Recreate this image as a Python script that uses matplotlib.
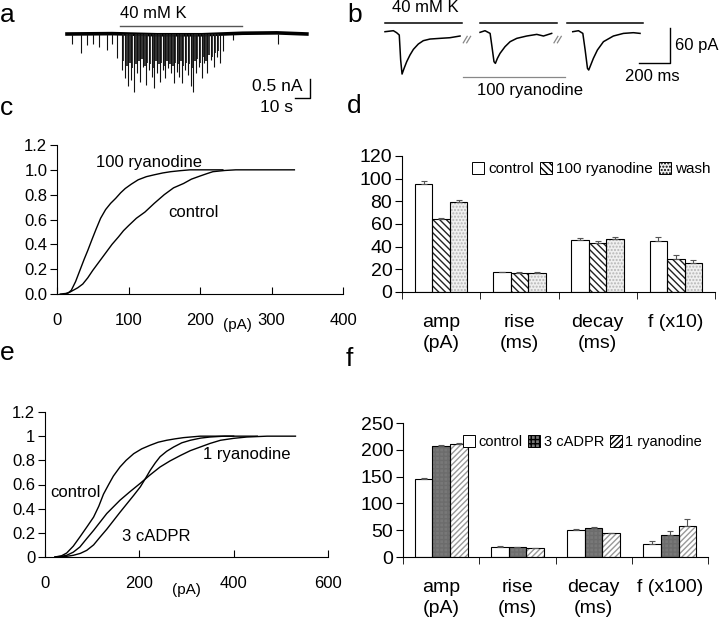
import numpy as np
import matplotlib
matplotlib.use('Agg')
import matplotlib.pyplot as plt

plt.rcParams['font.family'] = ['Liberation Sans', 'DejaVu Sans']
plt.rcParams['hatch.linewidth'] = 1.0

# ---- panel a: spikes (time s, amplitude nA) ----
base_t = [0, 30, 60, 90, 117, 140, 160]
base_i = [0.0, 0.01, -0.02, -0.02, 0.02, 0.03, 0.0]
spike_t = [3.1, 9.1, 13.6, 17.6, 21.6, 26.4, 29.8, 33.6,
           36.5, 38.7, 40.9, 42.5, 44.7, 46.9, 48.7, 50.9, 52.7, 54.5,
           56.5, 58.2, 60.2, 62.0, 63.8, 65.6, 67.6, 69.4, 71.4, 73.2,
           74.9, 76.7, 78.7, 80.5, 82.5, 84.3, 86.0, 87.8, 89.8, 91.6,
           93.6, 95.8, 98.0, 99.8, 102.1, 104.3, 110.9, 141.0]
spike_i = [-0.25, -0.51, -0.29, -0.25, -0.33, -0.42, -0.25, -0.64,
           -0.95, -1.17, -1.38, -1.21, -1.52, -1.03, -1.25, -0.86, -1.34, -0.95,
           -1.12, -1.43, -1.03, -1.25, -0.95, -1.17, -0.90, -1.03, -1.30, -0.99,
           -1.12, -1.30, -0.95, -1.08, -1.38, -1.52, -1.03, -0.86, -1.17, -0.77,
           -1.03, -0.68, -0.86, -0.60, -0.77, -0.46, -0.16, -0.25]
minor_t = [37.6, 39.8, 41.7, 43.6, 45.8, 47.8, 49.8, 51.8, 53.6, 55.5, 57.3,
           59.2, 61.1, 62.9, 64.7, 66.6, 68.5, 70.4, 72.3, 74.0, 75.8, 77.7,
           79.6, 81.5, 83.4, 85.1, 86.9, 88.8, 90.7, 92.6, 94.7, 96.9, 98.9, 101.0]
minor_i = [-0.70, -0.85, -0.75, -0.90, -0.80, -0.70, -0.65, -0.85, -0.75, -0.80, -0.90,
           -0.70, -0.80, -0.75, -0.85, -0.70, -0.80, -0.85, -0.75, -0.80, -0.70, -0.85,
           -0.75, -0.80, -0.90, -0.70, -0.65, -0.75, -0.60, -0.70, -0.55, -0.60, -0.50, -0.45]
k_on, k_off = 35.3, 116.7

# ---- panel b: averaged events (ms, pA) ----
tr1_t = [0, 54, 75, 92, 101, 110, 123, 140, 161, 183, 215, 247, 290, 355, 419, 484]
tr1_i = [0, 1.7, -1.7, -5.7, -48.6, -72.6, -62.9, -51.4, -40, -30.3, -21.1, -15.4, -12.6, -11.4, -10.3, -7.4]
tr2_t = [0, 32, 65, 77, 90, 99, 112, 129, 161, 194, 237, 301, 366, 409, 462]
tr2_i = [-1.1, 1.7, -2.9, -25.7, -51.4, -54.3, -45.7, -37.1, -25.7, -17.1, -11.4, -7.4, -4.6, -7.4, -2.9]
tr3_t = [0, 37, 65, 80, 95, 103, 116, 133, 159, 198, 262, 327, 391, 434]
tr3_i = [0, 1.7, -2.9, -31.4, -62.9, -65.7, -57.1, -45.7, -31.4, -17.1, -7.4, -2.9, -1.7, -2.9]
tr_offsets = [0, 613, 1211]

# ---- panel c: cumulative amplitude ----
c_ctl_x = [4.5, 13.6, 18, 22.7, 29, 36, 43, 50, 59, 68, 77, 86, 93, 100, 111, 123,
           136, 150, 163, 177, 188, 200, 210, 218, 235, 250, 332]
c_ctl_y = [0, 0.005, 0.015, 0.03, 0.05, 0.08, 0.13, 0.19, 0.26, 0.33, 0.40, 0.46, 0.51, 0.55,
           0.61, 0.66, 0.73, 0.80, 0.855, 0.89, 0.925, 0.95, 0.97, 0.985, 0.995, 1.0, 1.0]
c_rya_x = [11, 16, 20, 26, 32, 38, 43, 49, 54.5, 61, 68, 75, 82, 89, 95.5, 104, 113.6,
           125, 136, 148, 159, 172, 186, 232]
c_rya_y = [0, 0.01, 0.03, 0.10, 0.19, 0.28, 0.35, 0.44, 0.52, 0.61, 0.68, 0.73, 0.77, 0.815,
           0.85, 0.885, 0.92, 0.945, 0.96, 0.975, 0.985, 0.993, 1.0, 1.0]

# ---- panel e: cumulative amplitude ----
e_ctl_x = [21, 35, 46, 60, 74, 89, 103, 114, 124, 135, 145, 159, 172, 188, 205, 223,
           240, 258, 276, 294, 329, 400]
e_ctl_y = [0, 0.01, 0.033, 0.09, 0.166, 0.25, 0.33, 0.42, 0.52, 0.60, 0.67, 0.745, 0.80,
           0.855, 0.895, 0.925, 0.95, 0.966, 0.978, 0.988, 1.0, 1.0]
e_cad_x = [28, 45, 60, 75, 88.5, 103, 117, 131, 145, 159, 173.5, 188, 202, 213, 223, 234,
           244, 258, 272.6, 290, 308, 330, 350, 380, 450]
e_cad_y = [0, 0.005, 0.014, 0.03, 0.055, 0.10, 0.166, 0.23, 0.30, 0.37, 0.44, 0.51, 0.58,
           0.65, 0.717, 0.78, 0.83, 0.875, 0.91, 0.945, 0.966, 0.984, 0.993, 1.0, 1.0]
e_rya_x = [21, 34, 46, 60, 74, 88, 103, 117, 131, 145, 159, 180, 202, 223, 244, 265, 287,
           308, 329, 350, 372, 400, 428, 471, 531]
e_rya_y = [0, 0.005, 0.014, 0.04, 0.083, 0.15, 0.22, 0.29, 0.36, 0.415, 0.47, 0.54, 0.61,
           0.68, 0.745, 0.795, 0.84, 0.88, 0.91, 0.94, 0.966, 0.982, 0.993, 1.0, 1.0]

# ---- panel d / f: bar summaries ----
cats = ['amp\n(pA)', 'rise\n(ms)', 'decay\n(ms)', 'f (x10)']
d_ctl = [95.6, 17.6, 45.6, 45.3]
d_rya = [64.1, 17.1, 43.5, 29.1]
d_wash = [79.7, 17.1, 47.1, 25.9]
d_ctl_err = [2.0, 0.3, 2.0, 2.9]
d_rya_err = [1.2, 0.3, 1.2, 3.5]
d_wash_err = [1.5, 0.3, 1.7, 2.0]

cats_f = ['amp\n(pA)', 'rise\n(ms)', 'decay\n(ms)', 'f (x100)']
f_ctl = [145.6, 19.4, 51.3, 25.0]
f_cad = [207.5, 18.8, 55.0, 41.9]
f_rya = [210.0, 16.9, 44.4, 57.5]
f_ctl_err = [1.3, 0.3, 0.3, 5.0]
f_cad_err = [1.2, 0.3, 0.3, 6.9]
f_rya_err = [1.9, 0.3, 0.3, 13.1]

W, H = 720, 632
fig = plt.figure(figsize=(7.2, 6.32), dpi=100)


def box(l, t, r, b):
    return [l / W, 1 - b / H, (r - l) / W, (b - t) / H]


# panel letters
for lab, x, y in [('a', 0, 22), ('b', 347, 22), ('c', 0, 115), ('d', 347, 113),
                  ('e', 0, 360), ('f', 346, 366)]:
    fig.text(x / W, 1 - y / H, lab, fontsize=19, va='baseline', ha='left')

# ---------- a ----------
ax = fig.add_axes(box(60, 5, 320, 110))
ax.set_xlim(-7 * 0.667, 253 * 0.667)
ax.set_ylim(-76 * 0.0263, 29 * 0.0263)
ax.axis('off')
ax.plot(base_t, base_i, color='black', lw=2.6)
ax.vlines(minor_t, 0, minor_i, color='#222222', lw=1.3)
ax.vlines(spike_t, 0, spike_i, color='#111111', lw=0.8)
ax.plot([k_on, k_off], [0.21, 0.21], color='#555555', lw=1)
ax.text(k_on, 0.53, '40 mM K', fontsize=12, va='center', ha='left')
ax.plot([152, 162, 162], [-1.68, -1.68, -1.18], color='black', lw=1)
ax.text(157, -1.39, '0.5 nA', fontsize=12.5, va='center', ha='right')
ax.text(151, -1.92, '10 s', fontsize=12.5, va='center', ha='right')

# ---------- b ----------
ax = fig.add_axes(box(370, 0, 720, 110))
ax.set_xlim(-15 * 6.45, 335 * 6.45)
ax.set_ylim(-78.3 * 1.714, 31.7 * 1.714)
ax.axis('off')
for off, tt, ii in zip(tr_offsets, [tr1_t, tr2_t, tr3_t], [tr1_i, tr2_i, tr3_i]):
    ax.plot(np.array(tt) + off, ii, color='black', lw=1.1)
for k0, k1 in [(0, 494), (613, 1109), (1174, 1665)]:
    ax.plot([k0, k1], [14.3, 14.3], color='black', lw=1.1)
for bx in [505, 1090]:
    for dx in [0, 22]:
        ax.plot([bx + dx, bx + dx + 25], [-19, -8], color='#888888', lw=0.9)
ax.text(45, 42, '40 mM K', fontsize=12, va='center', ha='left')
ax.plot([503, 1161], [-77, -77], color='#888888', lw=0.9)
ax.text(935, -101, '100 ryanodine', fontsize=12, va='center', ha='center')
ax.plot([1638, 1838, 1838], [-53.7, -53.7, 6.3], color='black', lw=1)
ax.text(1871, -23, '60 pA', fontsize=12, va='center', ha='left')
ax.text(1722, -77, '200 ms', fontsize=12, va='center', ha='center')


def cum_axes(rect, xmax, xstep, yfmt, pad):
    a = fig.add_axes(rect)
    a.set_xlim(0, xmax)
    a.set_ylim(0, 1.2)
    a.set_xticks(np.arange(0, xmax + 1, xstep))
    a.set_yticks(np.arange(0, 1.21, 0.2))
    a.set_yticklabels([yfmt(v) for v in np.arange(0, 1.21, 0.2)])
    for s in ['top', 'right']:
        a.spines[s].set_visible(False)
    a.tick_params(axis='x', direction='in', length=5, pad=pad, labelsize=12)
    a.tick_params(axis='y', direction='out', length=5, pad=2, labelsize=12)
    return a


# ---------- c ----------
ax = cum_axes(box(57, 145, 343, 294), 400, 100, lambda v: f'{v:.1f}', 14)
ax.plot(c_ctl_x, c_ctl_y, color='black', lw=1)
ax.plot(c_rya_x, c_rya_y, color='black', lw=1)
ax.text(55, 1.063, '100 ryanodine', fontsize=12, va='center')
ax.text(155, 0.66, 'control', fontsize=12, va='center')
ax.text(253, -0.208, '(pA)', fontsize=11, va='center', ha='center',
        transform=ax.get_xaxis_transform())

# ---------- e ----------
ax = cum_axes(box(45, 412, 328, 557), 600, 200, lambda v: f'{v:g}', 14)
ax.plot(e_ctl_x, e_ctl_y, color='black', lw=1)
ax.plot(e_cad_x, e_cad_y, color='black', lw=1)
ax.plot(e_rya_x, e_rya_y, color='black', lw=1)
ax.text(10.6, 0.53, 'control', fontsize=12, va='center')
ax.text(336, 0.845, '1 ryanodine', fontsize=12, va='center')
ax.text(164, 0.166, '3 cADPR', fontsize=12, va='center')
ax.text(299, -0.228, '(pA)', fontsize=11, va='center', ha='center',
        transform=ax.get_xaxis_transform())


def bar_axes(rect, labels, series, errs, styles, names, ymax, ystep, bw, leg_anchor, leg_fs):
    a = fig.add_axes(rect)
    x = np.arange(len(labels))
    handles = []
    for k, (vals, err, st) in enumerate(zip(series, errs, styles)):
        pos = x + (k - 1) * bw
        face, hatch, hcol = st
        a.bar(pos, vals, bw, color=face, hatch=hatch, edgecolor=hcol, lw=0, zorder=2)
        a.bar(pos, vals, bw, fill=False, edgecolor='black', lw=0.8, zorder=3)
        a.errorbar(pos, vals, yerr=[np.zeros(len(vals)), err], fmt='none',
                   ecolor='#555555', elinewidth=0.8, capsize=2, capthick=0.8, zorder=4)
        handles.append(plt.Rectangle((0, 0), 1, 1, facecolor=face, hatch=hatch,
                                     edgecolor='black', lw=0.7))
    a.set_xlim(-0.5, len(labels) - 0.5)
    a.set_ylim(0, ymax)
    a.set_yticks(np.arange(0, ymax + 1, ystep))
    a.set_xticks(x)
    a.set_xticklabels(labels, linespacing=1.3, va='top')
    a.set_xticks(np.arange(-0.5, len(labels)), minor=True)
    a.tick_params(axis='x', which='major', length=0, pad=16, labelsize=14)
    a.tick_params(axis='x', which='minor', direction='out', length=5)
    a.tick_params(axis='y', direction='out', length=5, pad=2, labelsize=14)
    for s in ['top', 'right']:
        a.spines[s].set_visible(False)
    a.legend(handles, names, loc='center right', bbox_to_anchor=leg_anchor, ncol=3,
             frameon=False, fontsize=leg_fs, handlelength=0.8, handleheight=0.8,
             handletextpad=0.25, columnspacing=0.4, borderpad=0, borderaxespad=0)
    return a


# ---------- d ----------
bar_axes(box(402, 156, 715, 292), cats, [d_ctl, d_rya, d_wash],
         [d_ctl_err, d_rya_err, d_wash_err],
         [('white', None, 'black'), ('white', '\\\\\\\\\\', '#222222'),
          ('#f0f0f0', '.....', '#b5b5b5')],
         ['control', '100 ryanodine', 'wash'], 120, 20, 0.224, (0.985, 0.904), 11)

# ---------- f ----------
bar_axes(box(403, 423, 708, 557), cats_f, [f_ctl, f_cad, f_rya],
         [f_ctl_err, f_cad_err, f_rya_err],
         [('white', None, 'black'), ('#787878', '++++', '#6c6c6c'),
          ('white', '//////', '#999999')],
         ['control', '3 cADPR', '1 ryanodine'], 250, 50, 0.231, (0.98, 0.858), 10.5)

fig.savefig('out.png', dpi=100)
